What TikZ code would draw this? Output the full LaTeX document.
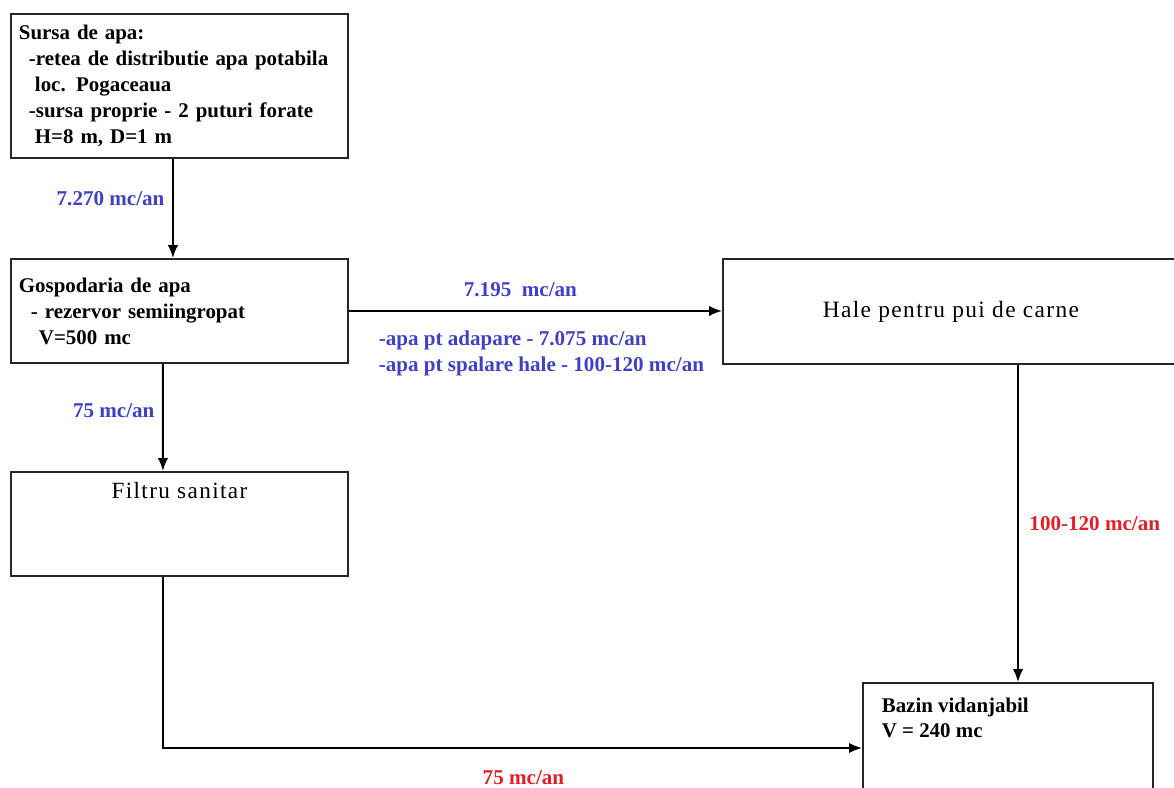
\documentclass[tikz,border=0pt]{standalone}
\usepackage{fontspec}
\setmainfont{Liberation Serif}
\newfontfamily\widefont[LetterSpace=6]{Liberation Serif}
\usepackage{tikz}
\usetikzlibrary{positioning, arrows.meta, calc}
\definecolor{flowblue}{rgb}{0.25,0.25,0.78}
\definecolor{flowred}{rgb}{0.88,0.12,0.15}
\tikzstyle{box}=[%
      rectangle, draw=black!85, line width=1.1pt, fill=none, anchor=north west,
      inner xsep=0.16cm, inner ysep=6pt, align=left, font=\bfseries\fontsize{11.9}{14.8}\selectfont
]
\tikzstyle{bluelbl}=[%
      text=flowblue, font=\bfseries\fontsize{12}{14.8}\selectfont, inner sep=2pt
]
\tikzstyle{redlbl}=[%
      text=flowred, font=\bfseries\fontsize{12}{14.8}\selectfont, inner sep=2pt
]

\begin{document}
\begin{tikzpicture}[x=0.02cm, y=-0.02cm,
    -{Latex[length=2.6mm,width=2.1mm]}, line width=1.1pt
  ]
    \useasboundingbox (0,0) rectangle (1174,788);
    \clip (0,0) rectangle (1174,788);

    \node[box, text width=6.42cm, minimum height=2.88cm] (sursa) at (10,13)
        {Sursa de apa:\\
         \hspace{0.2cm}-retea de distributie apa potabila\\
         \hspace{0.32cm}loc. Pogaceaua\\
         \hspace{0.2cm}-sursa proprie - 2 puturi forate\\
         \hspace{0.32cm}H=8 m, D=1 m};
    \node[box, text width=6.42cm, minimum height=2.08cm] (gosp) at (10,258)
        {Gospodaria de apa\\
         \hspace{0.24cm}- rezervor semiingropat\\
         \hspace{0.4cm}V=500 mc};
    \node[box, minimum width=9.12cm, minimum height=2.1cm, align=center,
          font=\widefont\fontsize{13.3}{15}\selectfont] (hale) at (722,258)
        {Hale pentru pui de carne};
    \node[box, minimum width=6.74cm, minimum height=2.08cm,
          label={[anchor=north, yshift=-0.1cm, font=\widefont\fontsize{13.2}{15}\selectfont]north:Filtru sanitar}]
        (filtru) at (10,471) {};
    \node[box, minimum width=5.8cm, minimum height=2.6cm,
          label={[anchor=north west, align=left, xshift=0.26cm, yshift=-0.18cm, font=\bfseries\fontsize{11.9}{14.6}\selectfont]north west:Bazin vidanjabil\\V = 240 mc}]
        (bazin) at (862,682) {};

    \draw ([xshift=-0.13cm]sursa.south) -- ([xshift=-0.13cm]sursa.south |- gosp.north)
        node[bluelbl, pos=0.4, left=0.08cm] {7.270 mc/an};
    \draw (gosp.east) -- (gosp.east -| hale.west)
        node[bluelbl, midway, above=0.2cm, xshift=-0.3cm] {7.195\ \ mc/an};
    \node[bluelbl, below right=0.38cm and 0.58cm of gosp.east, align=left, inner sep=0pt] (apa)
        {-apa pt adapare - 7.075 mc/an\\-apa pt spalare hale - 100-120 mc/an};
    \draw ([xshift=-0.33cm]gosp.south) -- ([xshift=-0.33cm]filtru.north)
        node[bluelbl, pos=0.44, left=0.08cm] {75 mc/an};
    \draw ([xshift=-0.33cm]filtru.south) |- (bazin.west |- 0,748)
        node[redlbl, pos=0.76, below=0.36cm, xshift=-0.06cm] {75 mc/an};
    \draw (1018,0 |- hale.south) -- (1018,0 |- bazin.north)
        node[redlbl, midway, right=0.14cm] {100-120 mc/an};
\end{tikzpicture}
\end{document}
